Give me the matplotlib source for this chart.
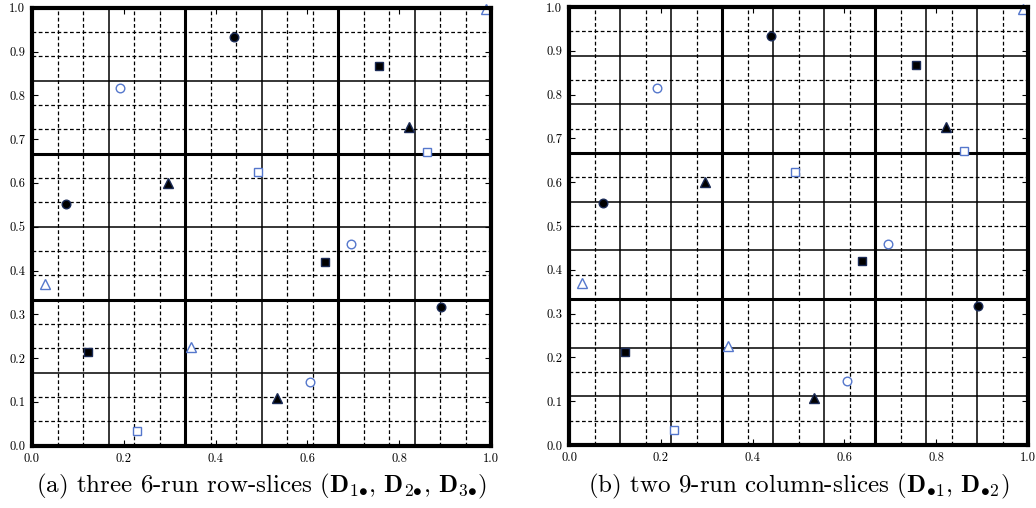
import numpy as np
import matplotlib
matplotlib.use('Agg')
from matplotlib import pyplot as plt

plt.rcParams['font.family'] = 'cmr10'
plt.rcParams['mathtext.fontset'] = 'cm'
plt.rcParams['axes.formatter.use_mathtext'] = True

# 18-run design, same points in both panels
x_pts = [0.440, 0.192, 0.756, 0.990, 0.822, 0.860, 0.073, 0.297, 0.493,
         0.694, 0.639, 0.028, 0.890, 0.123, 0.346, 0.606, 0.533, 0.228]
y_pts = [0.933, 0.816, 0.867, 0.996, 0.727, 0.671, 0.552, 0.600, 0.624,
         0.460, 0.419, 0.369, 0.317, 0.213, 0.226, 0.146, 0.108, 0.034]
kinds = ['fo', 'eo', 'fs', 'e^', 'f^', 'es', 'fo', 'f^', 'es',
         'eo', 'fs', 'e^', 'fo', 'fs', 'e^', 'eo', 'f^', 'es']

captions = [r'(a) three 6-run row-slices ($\mathbf{D}_{1{\bullet}}$, $\mathbf{D}_{2{\bullet}}$, $\mathbf{D}_{3{\bullet}}$)',
            r'(b) two 9-run column-slices ($\mathbf{D}_{{\bullet}1}$, $\mathbf{D}_{{\bullet}2}$)']

blue = '#5577cc'


def draw_grid(ax, panel):
    for k in range(1, 18):
        v = k / 18.0
        if k % 6 == 0:
            style = dict(color='black', lw=2.2, ls='-')
        elif panel == 0 and k % 3 == 0:
            style = dict(color='black', lw=1.1, ls='-')
        elif panel == 1 and k % 2 == 0:
            style = dict(color='black', lw=1.1, ls='-')
        else:
            style = dict(color='black', lw=0.9, ls=(0, (3, 2)))
        ax.axvline(v, zorder=1, **style)
        ax.axhline(v, zorder=1, **style)


fig = plt.figure(figsize=(10.36, 5.08), dpi=100)
axes = [fig.add_axes([32 / 1036, 1 - 445.7 / 508, 459 / 1036, 438 / 508]),
        fig.add_axes([569 / 1036, 1 - 445 / 508, 459 / 1036, 438 / 508])]

for i, ax in enumerate(axes):
    draw_grid(ax, i)
    for x, y, k in zip(x_pts, y_pts, kinds):
        face = 'black' if k[0] == 'f' else 'white'
        ax.plot(x, y, marker=k[1], ms=7 if k[1] == '^' else 6.2,
                mfc=face, mec=blue if k[0] == 'e' else '#1a2a55',
                mew=1.0, ls='None', zorder=3, clip_on=False)
    ax.set_xlim(0, 1)
    ax.set_ylim(0, 1)
    ax.set_xticks(np.arange(0, 1.01, 0.2))
    ax.set_yticks(np.arange(0, 1.01, 0.1))
    ax.set_xticklabels(['%.1f' % v for v in np.arange(0, 1.01, 0.2)])
    ax.set_yticklabels(['%.1f' % v for v in np.arange(0, 1.01, 0.1)])
    ax.tick_params(direction='in', top=True, right=True, length=4,
                   width=0.8, labelsize=9, pad=5)
    for s in ax.spines.values():
        s.set_linewidth(3.0)
        s.set_zorder(4)
    ax.text(0.5, -0.094, captions[i], transform=ax.transAxes, ha='center',
            va='center', fontsize=18)

fig.savefig('out.png', dpi=100)
